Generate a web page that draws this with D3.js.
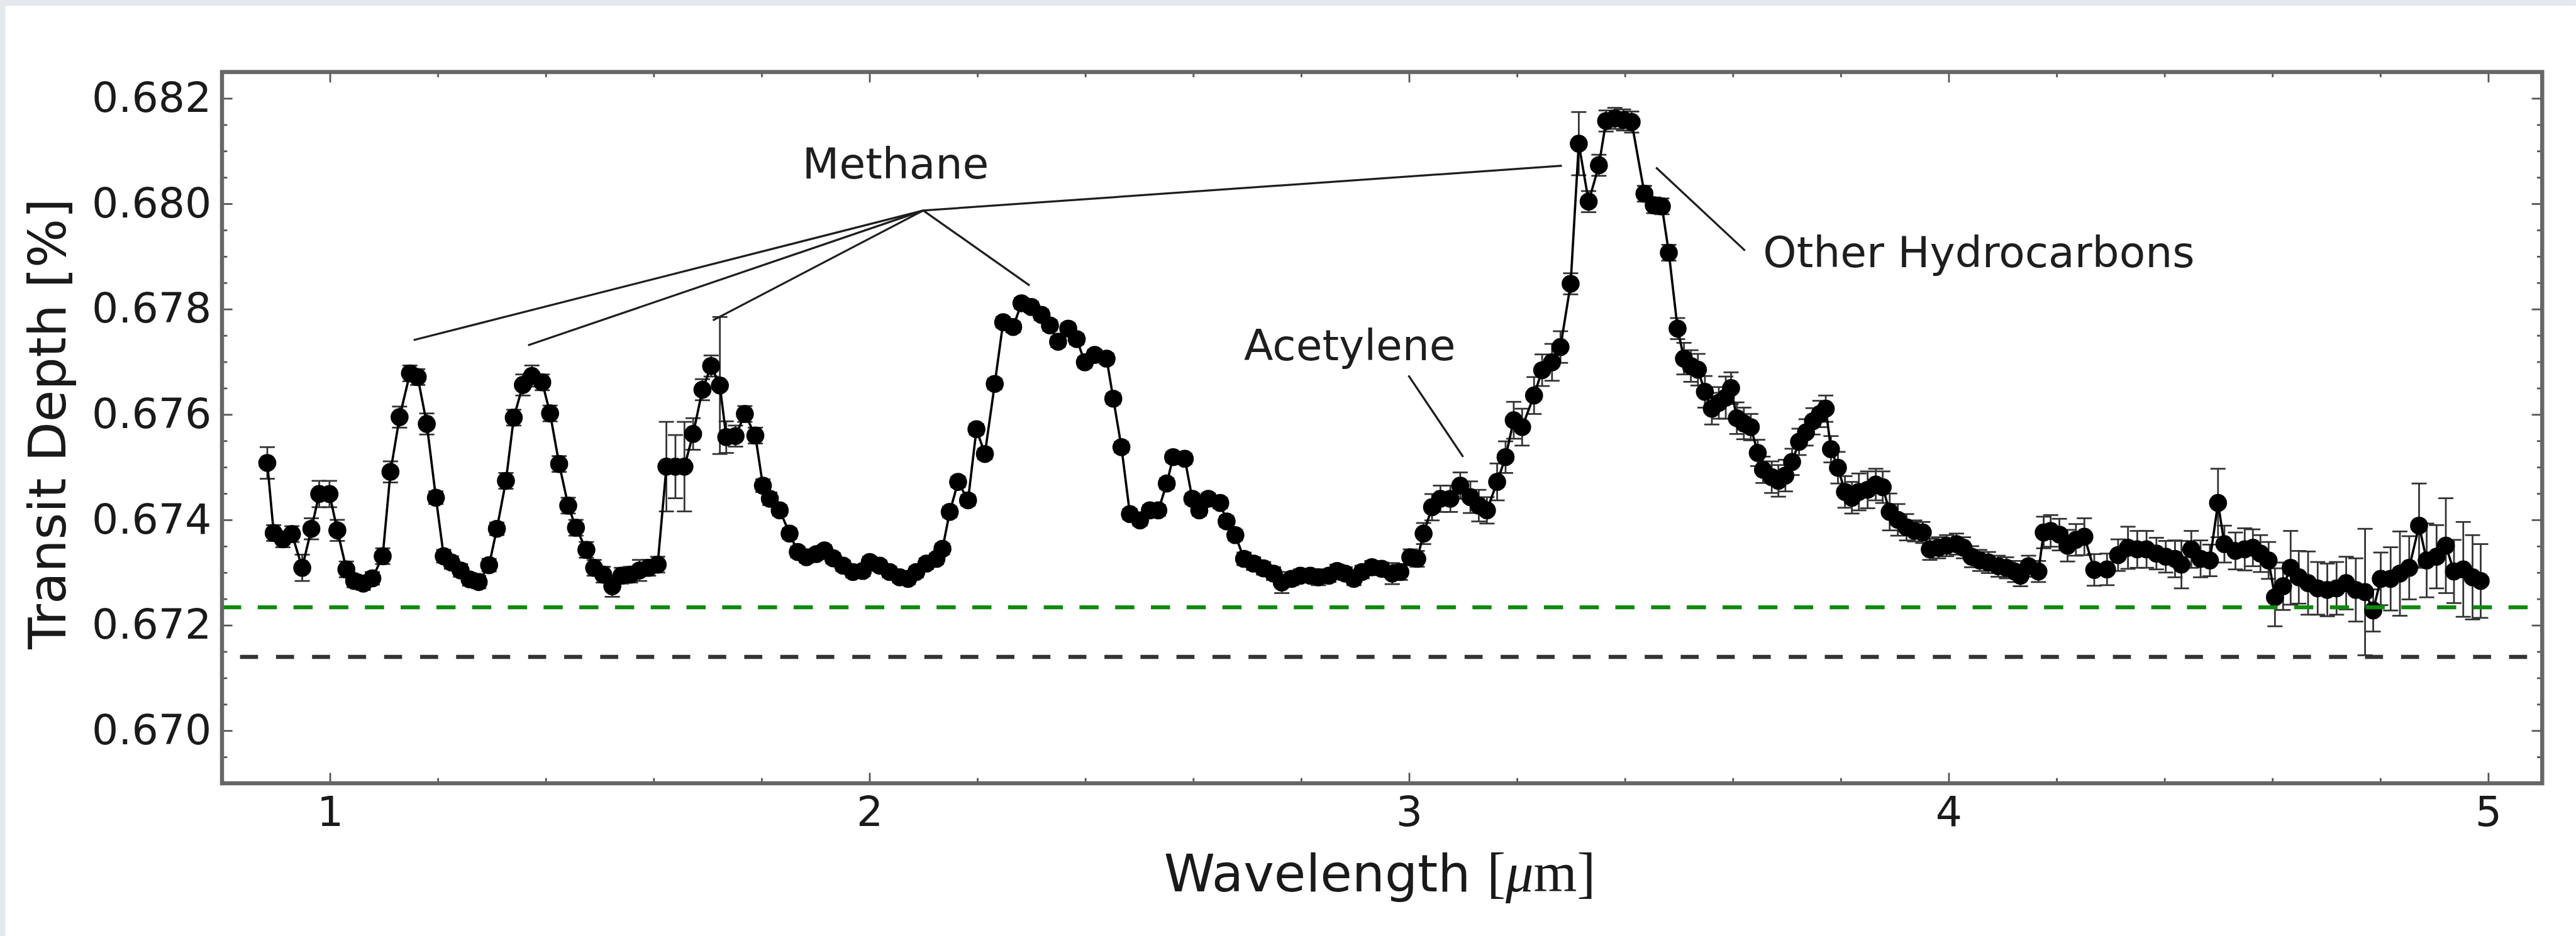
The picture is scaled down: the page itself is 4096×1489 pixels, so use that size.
<!DOCTYPE html>
<html>
<head>
<meta charset="utf-8">
<script src="https://cdn.jsdelivr.net/npm/d3@7/dist/d3.min.js"></script>
<style>
  html, body { margin: 0; padding: 0; background: #ffffff; }
  svg { display: block; }
</style>
</head>
<body>
<svg id="chart" width="4096" height="1489" viewBox="0 0 4434 1612"></svg>
<script>
// Transmission spectrum: wavelength [um], transit depth [%], 1-sigma error [%]
const wavelength = [
  0.8839, 0.8958, 0.9128, 0.9296, 0.9487, 0.9656, 0.9801, 0.9992, 1.0137, 1.0305,
  1.0449, 1.0618, 1.0786, 1.0978, 1.1122, 1.1291, 1.1483, 1.1627, 1.1795, 1.1964,
  1.2109, 1.2252, 1.2421, 1.2589, 1.2757, 1.2950, 1.3094, 1.3262, 1.3407, 1.3576,
  1.3743, 1.3935, 1.4080, 1.4248, 1.4416, 1.4560, 1.4753, 1.4897, 1.5065, 1.5233,
  1.5402, 1.5570, 1.5738, 1.5906, 1.6074, 1.6236, 1.6403, 1.6570, 1.6731, 1.6904,
  1.7065, 1.7227, 1.7345, 1.7517, 1.7690, 1.7884, 1.8024, 1.8153, 1.8336, 1.8519,
  1.8670, 1.8831, 1.9015, 1.9165, 1.9327, 1.9510, 1.9693, 1.9876, 2.0005, 2.0188,
  2.0372, 2.0560, 2.0716, 2.0867, 2.1055, 2.1241, 2.1352, 2.1487, 2.1642, 2.1826,
  2.1982, 2.2138, 2.2321, 2.2477, 2.2662, 2.2816, 2.2999, 2.3188, 2.3344, 2.3495,
  2.3683, 2.3840, 2.3991, 2.4174, 2.4394, 2.4518, 2.4669, 2.4826, 2.5013, 2.5196,
  2.5353, 2.5509, 2.5627, 2.5843, 2.5983, 2.6112, 2.6279, 2.6500, 2.6618, 2.6780,
  2.6941, 2.7118, 2.7303, 2.7488, 2.7641, 2.7825, 2.7986, 2.8169, 2.8320, 2.8514,
  2.8665, 2.8815, 2.8977, 2.9128, 2.9311, 2.9494, 2.9688, 2.9838, 3.0022, 3.0151,
  3.0269, 3.0425, 3.0581, 3.0765, 3.0948, 3.1136, 3.1292, 3.1443, 3.1632, 3.1788,
  3.1939, 3.2095, 3.2316, 3.2466, 3.2649, 3.2806, 3.2994, 3.3145, 3.3328, 3.3518,
  3.3651, 3.3813, 3.3974, 3.4125, 3.4362, 3.4534, 3.4685, 3.4814, 3.4976, 3.5094,
  3.5223, 3.5353, 3.5482, 3.5611, 3.5740, 3.5869, 3.5967, 3.6074, 3.6204, 3.6333,
  3.6462, 3.6559, 3.6721, 3.6844, 3.6974, 3.7098, 3.7227, 3.7356, 3.7485, 3.7614,
  3.7722, 3.7819, 3.7948, 3.8078, 3.8207, 3.8336, 3.8498, 3.8649, 3.8778, 3.8907,
  3.9058, 3.9219, 3.9370, 3.9521, 3.9650, 3.9812, 3.9962, 4.0145, 4.0275, 4.0425,
  4.0576, 4.0738, 4.0916, 4.1072, 4.1223, 4.1330, 4.1481, 4.1664, 4.1761, 4.1890,
  4.2052, 4.2203, 4.2359, 4.2515, 4.2698, 4.2935, 4.3140, 4.3323, 4.3495, 4.3667,
  4.3850, 4.4023, 4.4195, 4.4314, 4.4497, 4.4669, 4.4841, 4.4992, 4.5110, 4.5315,
  4.5487, 4.5638, 4.5778, 4.5929, 4.6047, 4.6198, 4.6338, 4.6489, 4.6661, 4.6839,
  4.7017, 4.7189, 4.7367, 4.7545, 4.7717, 4.7868, 4.8008, 4.8191, 4.8363, 4.8535,
  4.8718, 4.8859, 4.9042, 4.9214, 4.9365, 4.9537, 4.9709, 4.9860
];

const depth = [
  0.67508, 0.67375, 0.67363, 0.67373, 0.67309, 0.67383, 0.67449, 0.67449, 0.67380, 0.67306,
  0.67284, 0.67279, 0.67289, 0.67331, 0.67491, 0.67595, 0.67678, 0.67671, 0.67582, 0.67442,
  0.67331, 0.67319, 0.67304, 0.67287, 0.67282, 0.67314, 0.67383, 0.67474, 0.67594, 0.67656,
  0.67673, 0.67661, 0.67602, 0.67506, 0.67427, 0.67385, 0.67343, 0.67309, 0.67296, 0.67274,
  0.67294, 0.67296, 0.67304, 0.67309, 0.67315, 0.67501, 0.67501, 0.67501, 0.67563, 0.67647,
  0.67692, 0.67655, 0.67557, 0.67559, 0.67601, 0.67560, 0.67465, 0.67440, 0.67418, 0.67374,
  0.67339, 0.67329, 0.67335, 0.67342, 0.67327, 0.67313, 0.67301, 0.67303, 0.67320, 0.67313,
  0.67301, 0.67291, 0.67288, 0.67301, 0.67317, 0.67326, 0.67345, 0.67415, 0.67472, 0.67437,
  0.67572, 0.67525, 0.67658, 0.67775, 0.67766, 0.67811, 0.67804, 0.67789, 0.67769, 0.67738,
  0.67763, 0.67743, 0.67699, 0.67713, 0.67706, 0.67630, 0.67538, 0.67411, 0.67399, 0.67418,
  0.67418, 0.67469, 0.67519, 0.67516, 0.67440, 0.67418, 0.67440, 0.67432, 0.67397, 0.67371,
  0.67326, 0.67317, 0.67308, 0.67298, 0.67281, 0.67288, 0.67294, 0.67294, 0.67291, 0.67294,
  0.67303, 0.67298, 0.67288, 0.67301, 0.67310, 0.67307, 0.67298, 0.67301, 0.67329, 0.67326,
  0.67374, 0.67424, 0.67440, 0.67440, 0.67465, 0.67443, 0.67427, 0.67418, 0.67472, 0.67519,
  0.67589, 0.67576, 0.67636, 0.67684, 0.67699, 0.67728, 0.67848, 0.68114, 0.68004, 0.68073,
  0.68157, 0.68162, 0.68159, 0.68155, 0.68019, 0.67997, 0.67995, 0.67907, 0.67763, 0.67706,
  0.67692, 0.67685, 0.67643, 0.67611, 0.67622, 0.67632, 0.67650, 0.67593, 0.67583, 0.67576,
  0.67527, 0.67495, 0.67481, 0.67474, 0.67484, 0.67510, 0.67548, 0.67566, 0.67587, 0.67601,
  0.67611, 0.67534, 0.67499, 0.67453, 0.67442, 0.67453, 0.67457, 0.67467, 0.67462, 0.67415,
  0.67400, 0.67386, 0.67379, 0.67376, 0.67344, 0.67347, 0.67351, 0.67354, 0.67347, 0.67330,
  0.67323, 0.67319, 0.67312, 0.67309, 0.67302, 0.67294, 0.67312, 0.67302, 0.67376, 0.67379,
  0.67372, 0.67351, 0.67362, 0.67368, 0.67305, 0.67306, 0.67333, 0.67347, 0.67344, 0.67344,
  0.67336, 0.67330, 0.67326, 0.67315, 0.67344, 0.67326, 0.67323, 0.67432, 0.67354, 0.67341,
  0.67344, 0.67347, 0.67336, 0.67323, 0.67253, 0.67274, 0.67309, 0.67291, 0.67280, 0.67270,
  0.67267, 0.67270, 0.67280, 0.67267, 0.67263, 0.67228, 0.67288, 0.67288, 0.67298, 0.67309,
  0.67389, 0.67323, 0.67330, 0.67351, 0.67302, 0.67306, 0.67291, 0.67284
];

const depthErr = [
  0.00030, 0.00015, 0.00015, 0.00015, 0.00025, 0.00020, 0.00025, 0.00025, 0.00020, 0.00015,
  0.00012, 0.00012, 0.00012, 0.00015, 0.00020, 0.00020, 0.00015, 0.00015, 0.00020, 0.00012,
  0.00012, 0.00012, 0.00012, 0.00012, 0.00012, 0.00012, 0.00012, 0.00015, 0.00015, 0.00020,
  0.00020, 0.00015, 0.00015, 0.00015, 0.00015, 0.00015, 0.00015, 0.00015, 0.00015, 0.00020,
  0.00015, 0.00015, 0.00020, 0.00015, 0.00015, 0.00085, 0.00060, 0.00085, 0.00030, 0.00020,
  0.00020, 0.00130, 0.00030, 0.00020, 0.00015, 0.00015, 0.00012, 0.00012, 0.00010, 0.00010,
  0.00010, 0.00010, 0.00010, 0.00010, 0.00010, 0.00010, 0.00010, 0.00010, 0.00010, 0.00010,
  0.00010, 0.00010, 0.00010, 0.00010, 0.00010, 0.00010, 0.00010, 0.00010, 0.00010, 0.00010,
  0.00010, 0.00010, 0.00010, 0.00010, 0.00010, 0.00010, 0.00010, 0.00010, 0.00010, 0.00010,
  0.00010, 0.00010, 0.00010, 0.00010, 0.00010, 0.00010, 0.00010, 0.00010, 0.00010, 0.00010,
  0.00010, 0.00010, 0.00010, 0.00010, 0.00010, 0.00010, 0.00010, 0.00010, 0.00010, 0.00010,
  0.00012, 0.00012, 0.00012, 0.00012, 0.00020, 0.00012, 0.00012, 0.00012, 0.00015, 0.00012,
  0.00012, 0.00012, 0.00012, 0.00012, 0.00012, 0.00012, 0.00020, 0.00015, 0.00015, 0.00015,
  0.00020, 0.00025, 0.00025, 0.00025, 0.00025, 0.00030, 0.00030, 0.00025, 0.00035, 0.00030,
  0.00035, 0.00035, 0.00035, 0.00030, 0.00035, 0.00030, 0.00020, 0.00060, 0.00020, 0.00020,
  0.00020, 0.00020, 0.00020, 0.00020, 0.00015, 0.00015, 0.00015, 0.00015, 0.00020, 0.00030,
  0.00030, 0.00030, 0.00030, 0.00030, 0.00030, 0.00040, 0.00030, 0.00030, 0.00030, 0.00025,
  0.00025, 0.00025, 0.00030, 0.00030, 0.00030, 0.00025, 0.00025, 0.00025, 0.00025, 0.00025,
  0.00025, 0.00025, 0.00030, 0.00030, 0.00030, 0.00035, 0.00035, 0.00030, 0.00030, 0.00035,
  0.00030, 0.00025, 0.00020, 0.00020, 0.00020, 0.00020, 0.00020, 0.00020, 0.00020, 0.00020,
  0.00020, 0.00020, 0.00020, 0.00020, 0.00020, 0.00020, 0.00020, 0.00020, 0.00030, 0.00030,
  0.00030, 0.00030, 0.00030, 0.00035, 0.00030, 0.00030, 0.00030, 0.00040, 0.00035, 0.00035,
  0.00030, 0.00030, 0.00035, 0.00045, 0.00035, 0.00035, 0.00030, 0.00065, 0.00035, 0.00035,
  0.00040, 0.00035, 0.00035, 0.00035, 0.00055, 0.00045, 0.00070, 0.00050, 0.00060, 0.00050,
  0.00050, 0.00050, 0.00050, 0.00060, 0.00120, 0.00040, 0.00050, 0.00060, 0.00080, 0.00060,
  0.00080, 0.00070, 0.00060, 0.00090, 0.00060, 0.00090, 0.00080, 0.00070
];

// Axis ticks and limits
const xTickValues = [1, 2, 3, 4, 5];
const xTickLabels = ["1", "2", "3", "4", "5"];
const yTickValues = [0.670, 0.672, 0.674, 0.676, 0.678, 0.680, 0.682];
const yTickLabels = ["0.670", "0.672", "0.674", "0.676", "0.678", "0.680", "0.682"];
const xDomain = [0.8, 5.1];
const yDomain = [0.669, 0.6825];

// Reference depth levels (dashed)
const greenLevel = 0.67234;
const blackLevel = 0.67140;

// Annotations: leader lines in data coordinates
const methaneHub = [2.0996, 0.679871];
const methaneTargets = [
  [1.1551, 0.677412],
  [1.3673, 0.677313],
  [1.7097, 0.677787],
  [2.2967, 0.678449],
  [3.2832, 0.680721]
];
const annotationTexts = ["Methane", "Acetylene", "Other Hydrocarbons"];
const annotationAnchors = [[1.8756, 0.680478], [2.6941, 0.677026], [3.6559, 0.678790]];
const acetyleneLine = [[2.9989, 0.676739], [3.1002, 0.675195]];
const hydrocarbonLine = [[3.4577, 0.680687], [3.6225, 0.679110]];

// ---- drawing ----
const W = 4434, H = 1612;
const frame = { left: 382, right: 4376, top: 124, bottom: 1349 };
const FONT = "DejaVu Sans";

const svg = d3.select("#chart");

// page backdrop with a light grey border strip along the top and left
svg.append("rect").attr("width", W).attr("height", H).attr("fill", "#ffffff");
svg.append("rect").attr("x", 0).attr("y", 0).attr("width", W).attr("height", 10).attr("fill", "#e4e7eb");
svg.append("rect").attr("x", 0).attr("y", 0).attr("width", 9).attr("height", H).attr("fill", "#e4e7eb");

const x = d3.scaleLinear().domain(xDomain).range([frame.left, frame.right]);
const y = d3.scaleLinear().domain(yDomain).range([frame.bottom, frame.top]);

const data = wavelength.map((w, i) => ({ w, d: depth[i], e: depthErr[i] }));

// minor tick positions
const xMinor = d3.range(8, 51, 2).map(v => v / 10).filter(v => v > xDomain[0] && v < xDomain[1] && !xTickValues.includes(v));
const yMinor = d3.range(6695, 6825, 5).map(v => v / 10000).filter(v => !yTickValues.some(t => Math.abs(t - v) < 1e-7));

function styleAxis(g) {
  g.select(".domain").remove();
  g.attr("font-family", FONT).attr("font-size", 72);
  g.selectAll(".tick line").attr("stroke", "#555555").attr("stroke-width", 3);
  g.selectAll(".tick text").attr("fill", "#1a1a1a");
}

const axes = svg.append("g").attr("class", "axes");
// bottom
axes.append("g").attr("transform", `translate(0,${frame.bottom})`)
  .call(d3.axisBottom(x).tickValues(xMinor).tickSize(-9).tickFormat(""))
  .call(styleAxis);
axes.append("g").attr("transform", `translate(0,${frame.bottom})`)
  .call(d3.axisBottom(x).tickValues(xTickValues).tickSize(-18).tickPadding(22)
    .tickFormat((d, i) => xTickLabels[i]))
  .call(styleAxis);
// top
axes.append("g").attr("transform", `translate(0,${frame.top})`)
  .call(d3.axisTop(x).tickValues(xMinor).tickSize(-9).tickFormat(""))
  .call(styleAxis);
axes.append("g").attr("transform", `translate(0,${frame.top})`)
  .call(d3.axisTop(x).tickValues(xTickValues).tickSize(-18).tickFormat(""))
  .call(styleAxis);
// left
axes.append("g").attr("transform", `translate(${frame.left},0)`)
  .call(d3.axisLeft(y).tickValues(yMinor).tickSize(-9).tickFormat(""))
  .call(styleAxis);
axes.append("g").attr("transform", `translate(${frame.left},0)`)
  .call(d3.axisLeft(y).tickValues(yTickValues).tickSize(-18).tickPadding(18)
    .tickFormat((d, i) => yTickLabels[i]))
  .call(styleAxis);
// right
axes.append("g").attr("transform", `translate(${frame.right},0)`)
  .call(d3.axisRight(y).tickValues(yMinor).tickSize(-9).tickFormat(""))
  .call(styleAxis);
axes.append("g").attr("transform", `translate(${frame.right},0)`)
  .call(d3.axisRight(y).tickValues(yTickValues).tickSize(-18).tickFormat(""))
  .call(styleAxis);

// data layer
const plot = svg.append("g").attr("class", "plot");

// error bars
const capHalf = 13;
const eb = plot.append("g").attr("stroke", "#333333").attr("stroke-width", 3);
eb.selectAll("line.bar").data(data).join("line").attr("class", "bar")
  .attr("x1", d => x(d.w)).attr("x2", d => x(d.w))
  .attr("y1", d => y(d.d - d.e)).attr("y2", d => y(d.d + d.e));
eb.selectAll("line.capTop").data(data).join("line").attr("class", "capTop")
  .attr("x1", d => x(d.w) - capHalf).attr("x2", d => x(d.w) + capHalf)
  .attr("y1", d => y(d.d + d.e)).attr("y2", d => y(d.d + d.e));
eb.selectAll("line.capBot").data(data).join("line").attr("class", "capBot")
  .attr("x1", d => x(d.w) - capHalf).attr("x2", d => x(d.w) + capHalf)
  .attr("y1", d => y(d.d - d.e)).attr("y2", d => y(d.d - d.e));

// connecting line
plot.append("path").datum(data)
  .attr("fill", "none").attr("stroke", "#000").attr("stroke-width", 4)
  .attr("stroke-linejoin", "round")
  .attr("d", d3.line().x(d => x(d.w)).y(d => y(d.d)));

// markers
plot.append("g").selectAll("circle").data(data).join("circle")
  .attr("cx", d => x(d.w)).attr("cy", d => y(d.d)).attr("r", 15.5)
  .attr("fill", "#000");

// dashed reference levels
svg.append("line")
  .attr("x1", x(xDomain[0])).attr("x2", x(xDomain[1]))
  .attr("y1", y(greenLevel)).attr("y2", y(greenLevel))
  .attr("stroke", "#0f8a0f").attr("stroke-width", 7)
  .attr("stroke-dasharray", "33 28.5");
svg.append("line")
  .attr("x1", x(xDomain[0])).attr("x2", x(xDomain[1]))
  .attr("y1", y(blackLevel)).attr("y2", y(blackLevel))
  .attr("stroke", "#333333").attr("stroke-width", 7)
  .attr("stroke-dasharray", "31 31").attr("stroke-dashoffset", 31);

// annotations
const ann = svg.append("g").attr("class", "annotations");
const leader = ann.append("g").attr("stroke", "#1e1e1e").attr("stroke-width", 3.5).attr("fill", "none");
leader.selectAll("line.methane").data(methaneTargets).join("line").attr("class", "methane")
  .attr("x1", x(methaneHub[0])).attr("y1", y(methaneHub[1]))
  .attr("x2", d => x(d[0])).attr("y2", d => y(d[1]));
leader.selectAll("line.single").data([acetyleneLine, hydrocarbonLine]).join("line").attr("class", "single")
  .attr("x1", d => x(d[0][0])).attr("y1", d => y(d[0][1]))
  .attr("x2", d => x(d[1][0])).attr("y2", d => y(d[1][1]));

ann.selectAll("text").data(annotationTexts).join("text")
  .attr("x", (d, i) => x(annotationAnchors[i][0]))
  .attr("y", (d, i) => y(annotationAnchors[i][1]))
  .attr("font-family", FONT).attr("font-size", 73.5).attr("fill", "#1e1e1e")
  .text(d => d);

// axis labels
svg.append("text")
  .attr("transform", `translate(112,730) rotate(-90)`)
  .attr("text-anchor", "middle")
  .attr("font-family", FONT).attr("font-size", 89).attr("fill", "#1a1a1a")
  .text("Transit Depth [%]");

const xl = svg.append("text")
  .attr("x", (frame.left + frame.right) / 2 - 4).attr("y", 1535)
  .attr("text-anchor", "middle")
  .attr("font-family", FONT).attr("font-size", 89).attr("fill", "#1a1a1a");
xl.append("tspan").text("Wavelength ");
xl.append("tspan").attr("font-family", "Liberation Serif").attr("font-size", 96).text("[");
xl.append("tspan").attr("font-family", "Liberation Serif").attr("font-size", 96).attr("font-style", "italic").text("\u03bc");
xl.append("tspan").attr("font-family", "Liberation Serif").attr("font-size", 96).text("m]");

// plot frame
svg.append("rect")
  .attr("x", frame.left).attr("y", frame.top)
  .attr("width", frame.right - frame.left).attr("height", frame.bottom - frame.top)
  .attr("fill", "none").attr("stroke", "#666666").attr("stroke-width", 7);
</script>
</body>
</html>
